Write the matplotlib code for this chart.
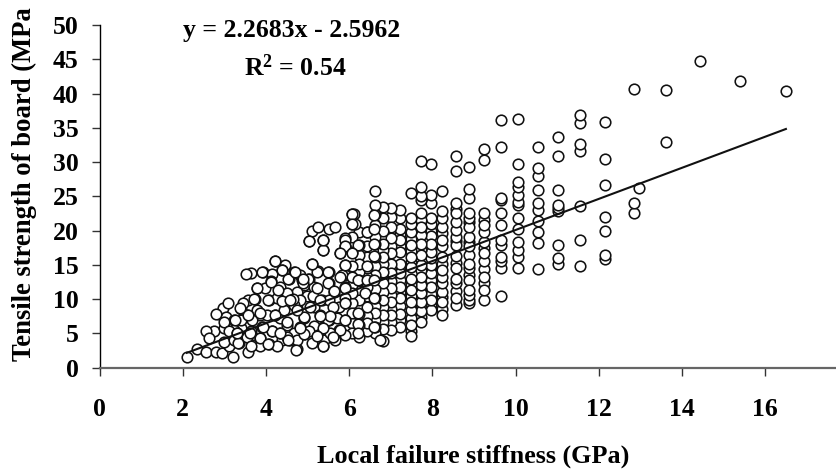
import matplotlib
matplotlib.use("Agg")
import matplotlib.pyplot as plt

plt.rcParams['font.family'] = ['Liberation Serif', 'DejaVu Sans']
plt.rcParams['font.weight'] = 'bold'
plt.rcParams['mathtext.fontset'] = 'custom'
plt.rcParams['mathtext.bf'] = 'Liberation Serif:bold'
plt.rcParams['mathtext.rm'] = 'Liberation Serif:bold'

left_cluster = [
(2.10,1.5),(2.35,2.7),(2.57,2.3),(2.81,2.3),(2.95,2.1),(3.21,1.5),(3.11,3.1),(2.75,5.3),(2.57,5.3),(2.63,4.3),
(2.99,5.75),(2.87,7.9),(2.97,8.7),(3.09,9.5),(3.03,7.35),(3.23,7.0),(3.39,8.5),(3.55,7.7),(3.57,9.9),(3.73,10.0),
(3.79,11.7),(3.93,13.9),(3.63,13.8),(3.53,13.7),(4.23,15.5),(4.47,15.0),(4.39,14.2),(4.15,13.7),(4.13,12.6),(4.55,13.0),
(4.67,14.0),(4.83,13.5),(4.91,12.1),(5.03,12.9),(4.35,11.8),(4.07,9.9),(4.39,9.9),(4.63,10.0),(4.23,7.7),(3.87,7.7),
(3.67,7.0),(3.39,5.75),(3.23,5.5),(3.63,5.3),(4.15,5.3),(4.51,6.2),(4.75,8.7),(4.91,7.2),(5.15,8.9),(5.35,9.9),
(5.51,12.3),(5.25,14.1),(5.51,14.0),(5.38,17.1),(5.11,15.2),(5.03,18.5),(5.11,19.9),(5.25,20.5),(5.51,20.3),(5.65,20.5),
(5.38,18.6),(6.11,22.4),(6.13,21.0),(5.79,16.7),(5.83,13.5),(5.63,11.1),(5.75,8.9),(5.51,7.0),(5.38,5.9),(5.15,6.1),
(4.91,4.9),(5.25,4.7),(4.58,4.1),(4.39,4.0),(4.07,3.5),(3.85,4.4),(3.67,3.3),(3.35,3.65),(3.57,2.3),(3.87,3.1),
(4.75,2.7),(5.11,3.55),(5.38,3.15),(5.67,4.0),(5.91,4.8),(2.99,3.8),(3.23,4.05),(4.27,3.1),(4.67,5.0),(4.99,10.4),
(4.75,11.1),(4.51,10.85),(3.99,11.6),(4.27,10.1),(3.91,6.0),(4.35,7.2),(4.83,9.9),(5.71,7.2),(5.31,7.7),(4.83,6.0),
(5.03,5.3),(3.39,7.0),(3.79,8.4),(4.03,7.7),(2.99,6.7),(3.11,5.3),(2.79,7.9),(5.39,4.05),(5.75,5.5),(5.55,5.0),
(5.51,9.9),(5.15,11.8),(4.87,12.8),(4.67,9.15),(4.43,8.4),(3.55,4.5),(3.31,5.0),(4.35,5.0),(4.51,4.5),(4.75,4.0),
(6.07,22.4),(6.07,21.0),(5.90,18.7),(5.90,17.7),(6.22,17.9),(6.43,19.8),(6.60,22.3),(6.60,20.2),(6.60,18.1),(6.60,16.3),
(6.43,14.8),(6.06,16.7),(5.78,16.7),(5.90,15.0),(6.06,13.3),(5.50,14.0),(5.24,14.0),(5.02,13.0),(5.50,12.3),(5.90,11.6),
(6.38,10.85),(6.60,10.1),(6.22,8.0),(5.90,9.4),(5.90,7.0),(6.22,6.4),(6.60,6.0),(6.22,5.0),(6.75,4.0),(5.50,7.0),
(5.78,5.5),(5.38,5.75),(5.24,4.6),(4.92,7.35),(4.64,10.0),(4.38,9.8),(4.06,9.9),(3.72,10.0),(3.56,7.7),(4.22,7.7),
(4.14,5.3),(3.85,4.3),(3.34,3.6),(3.64,3.2),(4.06,3.5),(4.54,4.0),(4.73,2.6),(5.37,3.1),(4.92,4.9),(5.62,8.9),
(5.64,11.2),(5.14,10.4),(4.90,12.3),(4.54,12.9),(4.13,12.5),(3.78,11.7),(3.90,13.9),(4.38,14.2),(4.22,15.5),(5.10,15.2),
(5.37,17.1),(5.37,18.6),(5.04,18.5),(3.46,9.4),(3.38,8.7),(3.26,7.0),(3.86,8.0),(4.50,6.7),(4.74,8.4),(5.06,8.9),
(5.30,9.9),(4.82,5.75),(4.34,5.0),(3.94,6.0),(3.62,5.0),(3.30,5.0),(5.62,4.5),(5.54,7.5),(5.30,7.5),(4.58,9.9),
(4.30,11.3),(4.70,14.0),(4.90,13.0),(5.22,11.6),(5.78,13.3),(6.22,12.8),(6.43,12.8),(6.60,12.8),
]

columns = {
5.91: [18.9,17.7,15.0,11.8,9.4,7.0,13.5,10.2],
6.08: [22.4,21.0,16.9,13.3,10.85,5.0,19.0,8.0,14.8,12.0,9.5,6.5],
6.23: [19.8,17.9,15.2,12.8,9.9,7.9,4.5,11.2,16.5,14.0,6.2],
6.42: [19.8,17.7,14.5,11.8,8.9,6.5,16.2,13.2,10.5,7.6,5.4],
6.62: [25.8,23.7,22.4,20.8,19.1,16.2,13.5,10.1,6.0,18.0,14.8,11.5,8.0,9.0,7.0,5.0],
6.81: [23.4,21.9,18.1,16.2,14.0,12.3,9.9,7.7,5.7,3.95,20.0,11.0,15.1,17.2,13.1,8.8,6.7],
7.00: [23.25,20.6,18.9,16.7,13.8,11.6,9.6,7.7,5.5,22.0,15.2,10.6,17.8,14.5,12.7,8.6,6.6],
7.22: [23.0,21.8,20.3,18.6,16.9,15.2,13.8,11.8,10.1,7.9,6.0,12.8,9.0,14.5,17.7,19.5,11.0,7.0],
7.48: [25.5,21.8,21.0,19.8,17.9,16.2,14.7,13.0,11.3,9.6,8.4,6.2,4.6,15.4,10.5,17.0,18.8,12.1,7.2,5.4],
7.72: [30.1,26.4,25.0,24.5,22.6,20.6,18.1,16.4,15.0,13.3,12.1,10.85,9.6,8.2,6.7,19.4,11.5,21.6,17.2,14.2,9.0,7.4],
7.97: [29.7,25.2,24.0,21.8,21.0,18.1,16.9,16.0,15.0,13.8,11.8,9.9,8.4,12.8,10.8,19.2,20.0,14.4,17.5,9.1],
8.24: [25.8,22.8,21.8,20.6,18.6,17.7,16.2,14.3,13.3,12.3,9.6,7.7,11.0,15.2,19.6,10.3,8.6],
8.56: [30.9,28.7,24.0,22.5,21.3,20.1,19.1,17.9,16.3,14.5,13.0,12.3,10.1,9.15,15.3,11.2,23.2,18.5],
8.88: [29.3,26.0,24.7,22.5,21.8,20.6,19.1,17.7,15.2,14.5,11.3,10.6,9.9,9.4,16.5,12.8,21.2,18.4,13.5],
9.25: [31.9,30.3,22.5,20.8,19.8,18.4,16.7,15.5,13.3,11.4,9.9,21.6,14.4,12.3,17.5],
9.64: [36.2,32.25,24.7,24.4,22.5,20.8,18.6,17.9,16.2,15.5,14.5,10.45],
10.05: [36.3,29.7,27.1,26.3,25.2,24.2,23.7,21.8,20.2,18.4,17.2,16.2,14.5],
10.53: [32.25,29.2,28.0,25.9,24.0,23.0,21.4,19.8,18.2,14.35],
11.03: [33.6,30.9,25.9,23.7,23.25,22.8,17.9,16.0,15.2],
11.55: [36.9,35.7,32.6,31.6,23.6,18.7,14.8],
12.15: [35.9,30.5,26.6,22.0,19.9,16.4,15.8],
12.84: [40.7,24.1,22.55],
12.97: [26.26],
13.61: [40.5,33.0],
14.44: [44.75],
15.39: [41.9],
16.51: [40.37],
}

trend_x = [2.10, 16.50]
trend_y = [2.17, 34.83]

x_ticks = list(range(0, 17, 2))
y_ticks = list(range(0, 51, 5))

xs = []
ys = []
for cx, vals in columns.items():
    xs += [cx] * len(vals)
    ys += vals
xs = xs[::-1] + [p[0] for p in left_cluster]
ys = ys[::-1] + [p[1] for p in left_cluster]

W, H = 836, 470
fig = plt.figure(figsize=(W / 100, H / 100), dpi=100)
ax = fig.add_axes([99.5 / W, 1 - 367.7 / H, (W - 99.5) / W, (367.7 - 25) / H])
ax.set_xlim(0, (W - 99.5) / 41.6)
ax.set_ylim(0, 50)

ax.scatter(xs, ys, s=58, facecolor='white', edgecolor='#111111', linewidths=1.15, zorder=3, clip_on=False)
ax.plot(trend_x, trend_y, color='#111111', lw=1.5, zorder=4)

for s in ('top', 'right'):
    ax.spines[s].set_visible(False)
ax.spines['left'].set_linewidth(1.0)
ax.spines['bottom'].set_linewidth(1.6)
ax.spines['bottom'].set_color('#666666')

ax.set_xticks(x_ticks)
ax.set_yticks(y_ticks)
ax.tick_params(axis='x', length=6, width=1.0, pad=16, labelsize=18.5, color='#333333')
ax.tick_params(axis='y', length=6, width=1.0, pad=9, labelsize=18.5, color='#333333')

fig.text(317 / W, 1 - 456 / H, 'Local failure stiffness (GPa)', fontsize=18.8,
         fontweight='bold', ha='left', va='center')
fig.text(24.5 / W, 1 - 361 / H, 'Tensile strength of board (MPa', fontsize=19.2,
         fontweight='bold', rotation=90, ha='center', va='bottom')
fig.text(292 / W, 1 - 30 / H, 'y = 2.2683x - 2.5962', fontsize=18.5,
         fontweight='bold', ha='center', va='center')
fig.text(295 / W, 1 - 68 / H, r'$\mathbf{R^2}$ = 0.54', fontsize=18.5,
         fontweight='bold', ha='center', va='center')

fig.savefig('out.png', dpi=100)
